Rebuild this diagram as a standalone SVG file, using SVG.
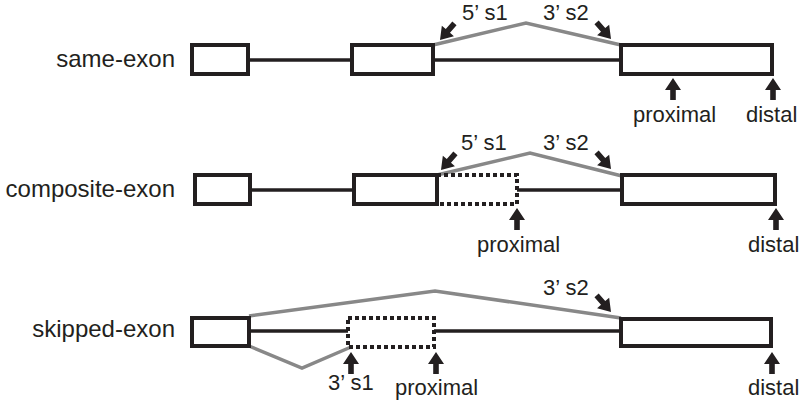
<svg xmlns="http://www.w3.org/2000/svg" xmlns:xlink="http://www.w3.org/1999/xlink" width="800" height="407" viewBox="0 0 800 407">
<style>
.exon{fill:#fff;stroke:#231f20;stroke-width:4}
.dot{fill:none;stroke:#231f20;stroke-width:4;stroke-dasharray:4 3}
.intron{fill:none;stroke:#231f20;stroke-width:3.5}
.splice{fill:none;stroke:#888;stroke-width:3.5;stroke-linejoin:miter}
.lbl{font-family:"Liberation Sans",Arial,sans-serif;font-size:24px;fill:#231f20}
.sm{font-family:"Liberation Sans",Arial,sans-serif;font-size:22px;fill:#231f20}
.arr{fill:#231f20}
</style>
<defs>
<polygon id="arrow" class="arr" points="0,0 -8,12 -2.8,12 -2.8,22 2.8,22 2.8,12 8,12"/>
</defs>
<g id="connectors">
<line class="intron" x1="250" y1="60" x2="352" y2="60"/>
<line class="intron" x1="433" y1="60" x2="621" y2="60"/>
<polyline class="splice" points="433,45 526,23 621,45"/>
<line class="intron" x1="252" y1="190" x2="354" y2="190"/>
<line class="intron" x1="517" y1="190" x2="622" y2="190"/>
<polyline class="splice" points="437,175 530,153 622,176"/>
<line class="intron" x1="249" y1="331" x2="348" y2="331"/>
<line class="intron" x1="434" y1="331" x2="621" y2="331"/>
<polyline class="splice" points="249,316 435,291 621,318"/>
<polyline class="splice" points="249,346 302,368 351,347"/>
</g>
<g id="row1">
<text class="lbl" x="175" y="67" text-anchor="end">same-exon</text>
<g id="r1e1"><rect class="exon" x="192" y="45" width="56" height="29"/></g>
<g id="r1e2"><rect class="exon" x="352" y="45" width="81" height="29"/></g>
<g id="r1e3"><rect class="exon" x="621" y="45" width="151" height="29"/></g>
<use xlink:href="#arrow" transform="translate(440,40) rotate(-139)"/>
<use xlink:href="#arrow" transform="translate(611,39) rotate(139)"/>
<text class="sm" x="462" y="20">5’ s1</text>
<text class="sm" x="543" y="20">3’ s2</text>
<use xlink:href="#arrow" transform="translate(673,78)"/>
<use xlink:href="#arrow" transform="translate(773,78)"/>
<text class="sm" x="633" y="122">proximal</text>
<text class="sm" x="746" y="122">distal</text>
</g>
<g id="row2">
<text class="lbl" x="175" y="197" text-anchor="end">composite-exon</text>
<g id="r2e1"><rect class="exon" x="195" y="175" width="55" height="29"/></g>
<g id="r2e2"><rect class="exon" x="354" y="175" width="83" height="29"/></g>
<g id="r2alt"><rect class="dot" x="437" y="175" width="80" height="29"/></g>
<g id="r2e3"><rect class="exon" x="622" y="175" width="153" height="29"/></g>
<use xlink:href="#arrow" transform="translate(441,170) rotate(-139)"/>
<use xlink:href="#arrow" transform="translate(611,169) rotate(139)"/>
<text class="sm" x="461" y="150">5’ s1</text>
<text class="sm" x="543" y="150">3’ s2</text>
<use xlink:href="#arrow" transform="translate(517,208)"/>
<use xlink:href="#arrow" transform="translate(776,208)"/>
<text class="sm" x="477" y="252">proximal</text>
<text class="sm" x="748" y="252">distal</text>
</g>
<g id="row3">
<text class="lbl" x="175" y="337" text-anchor="end">skipped-exon</text>
<g id="r3e1"><rect class="exon" x="192" y="318" width="57" height="28"/></g>
<g id="r3alt"><rect class="dot" x="348" y="318" width="86" height="29"/></g>
<g id="r3e3"><rect class="exon" x="621" y="319" width="150" height="27"/></g>
<use xlink:href="#arrow" transform="translate(611,312) rotate(139)"/>
<text class="sm" x="543" y="295">3’ s2</text>
<use xlink:href="#arrow" transform="translate(351,352)"/>
<text class="sm" x="328" y="390">3’ s1</text>
<use xlink:href="#arrow" transform="translate(436,352)"/>
<text class="sm" x="395" y="395">proximal</text>
<use xlink:href="#arrow" transform="translate(772,352)"/>
<text class="sm" x="748" y="395">distal</text>
</g>
</svg>
